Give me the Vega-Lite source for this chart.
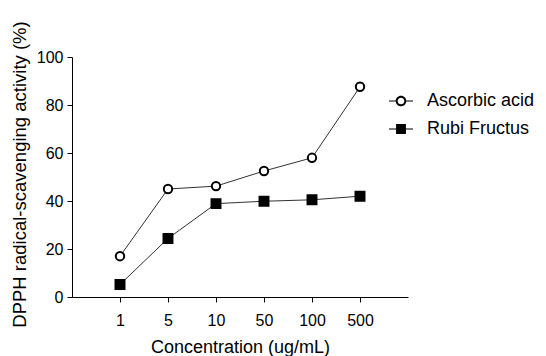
{
  "$schema": "https://vega.github.io/schema/vega-lite/v6.json",
  "width": 336,
  "height": 240,
  "autosize": {"type": "none"},
  "padding": {"left": 72, "top": 57, "right": 138, "bottom": 59},
  "background": "white",
  "config": {
    "view": {"stroke": null},
    "font": "Liberation Sans",
    "axis": {
      "domainColor": "black",
      "tickColor": "black",
      "labelColor": "black",
      "titleColor": "black",
      "grid": false,
      "labelFont": "Liberation Sans",
      "titleFont": "Liberation Sans",
      "titleFontWeight": "normal",
      "labelFontSize": 16,
      "tickSize": 5,
      "domainWidth": 1,
      "tickWidth": 1
    },
    "legend": {"labelFont": "Liberation Sans"}
  },
  "data": {
    "values": [
      {"conc": "1", "series": "Ascorbic acid", "activity": 17.0},
      {"conc": "5", "series": "Ascorbic acid", "activity": 45.0},
      {"conc": "10", "series": "Ascorbic acid", "activity": 46.2},
      {"conc": "50", "series": "Ascorbic acid", "activity": 52.5},
      {"conc": "100", "series": "Ascorbic acid", "activity": 58.0},
      {"conc": "500", "series": "Ascorbic acid", "activity": 87.6},
      {"conc": "1", "series": "Rubi Fructus", "activity": 5.2},
      {"conc": "5", "series": "Rubi Fructus", "activity": 24.4},
      {"conc": "10", "series": "Rubi Fructus", "activity": 38.9},
      {"conc": "50", "series": "Rubi Fructus", "activity": 39.9},
      {"conc": "100", "series": "Rubi Fructus", "activity": 40.5},
      {"conc": "500", "series": "Rubi Fructus", "activity": 42.0}
    ]
  },
  "encoding": {
    "x": {
      "field": "conc",
      "type": "ordinal",
      "sort": ["1", "5", "10", "50", "100", "500"],
      "scale": {"type": "point", "padding": 1},
      "axis": {
        "title": "Concentration (ug/mL)",
        "titleFontSize": 18,
        "titleY": 55,
        "titleBaseline": "alphabetic",
        "labelAngle": 0,
        "labelPadding": 10,
        "labelFontSize": 16
      }
    },
    "y": {
      "field": "activity",
      "type": "quantitative",
      "scale": {"domain": [0, 100], "nice": false},
      "axis": {
        "title": "DPPH radical-scavenging activity (%)",
        "titleFontSize": 18.5,
        "titleAngle": -90,
        "titleX": -47,
        "titleY": 117,
        "titleAlign": "center",
        "titleBaseline": "alphabetic",
        "values": [0, 20, 40, 60, 80, 100],
        "labelPadding": 4,
        "labelFontSize": 16
      }
    }
  },
  "resolve": {"scale": {"shape": "independent"}},
  "layer": [
    {
      "mark": {"type": "line", "color": "#333333", "strokeWidth": 1},
      "encoding": {"detail": {"field": "series"}}
    },
    {
      "mark": {"type": "point", "filled": false, "stroke": "black", "strokeWidth": 2, "opacity": 1},
      "encoding": {
        "shape": {
          "field": "series",
          "type": "nominal",
          "scale": {"domain": ["Ascorbic acid", "Rubi Fructus"], "range": ["circle", "square"]},
          "legend": null
        },
        "fill": {
          "condition": {"test": "datum.series === 'Ascorbic acid'", "value": "white"},
          "value": "black"
        },
        "size": {
          "condition": {"test": "datum.series === 'Ascorbic acid'", "value": 70},
          "value": 80
        }
      }
    },
    {
      "mark": {"type": "point", "filled": true, "color": "black", "strokeWidth": 0, "opacity": 0, "size": 576},
      "encoding": {
        "shape": {
          "field": "series",
          "type": "nominal",
          "scale": {
            "domain": ["Ascorbic acid", "Rubi Fructus"],
            "range": [
              "M-1,-0.045L-0.42,-0.045L-0.42,0.045L-1,0.045Z M0.42,-0.045L1,-0.045L1,0.045L0.42,0.045Z M-0.44,0A0.44,0.44 0 1,1 0.44,0A0.44,0.44 0 1,1 -0.44,0Z M-0.28,0A0.28,0.28 0 1,0 0.28,0A0.28,0.28 0 1,0 -0.28,0Z",
              "M-1,-0.045L-0.41,-0.045L-0.41,0.045L-1,0.045Z M0.41,-0.045L1,-0.045L1,0.045L0.41,0.045Z M-0.41,-0.41L0.41,-0.41L0.41,0.41L-0.41,0.41Z"
            ]
          },
          "legend": {
            "title": null,
            "orient": "none",
            "legendX": 317,
            "legendY": 32,
            "padding": 0,
            "labelFontSize": 18,
            "labelColor": "black",
            "labelOffset": 14,
            "rowPadding": 7,
            "symbolSize": 576,
            "symbolOpacity": 1,
            "symbolFillColor": "black",
            "symbolStrokeWidth": 0
          }
        }
      }
    }
  ]
}
